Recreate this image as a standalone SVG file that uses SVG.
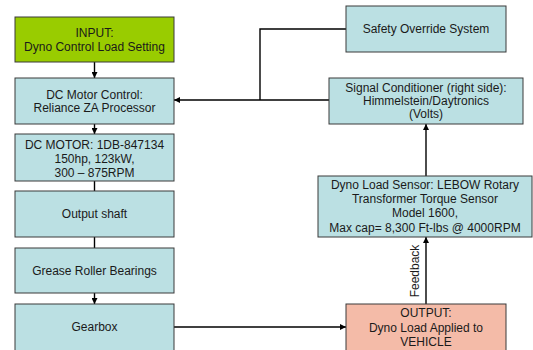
<svg xmlns="http://www.w3.org/2000/svg" width="533" height="350" viewBox="0 0 533 350">
<defs>
<style>
.box{stroke:#3a3a3a;stroke-width:1}
.blue{fill:#BBE0E3}
.green{fill:#99CC00}
.salmon{fill:#F4BBA8}
text{font-family:"Liberation Sans",Arial,sans-serif;font-size:12px;fill:#1a1a1a;text-anchor:middle}
.c{fill:none;stroke:#000;stroke-width:1.4}
</style>
<marker id="ah" viewBox="0 0 10 10" refX="10" refY="5" markerWidth="6" markerHeight="6" markerUnits="userSpaceOnUse" orient="auto">
<path d="M0,0 L10,5 L0,10 z" fill="#000"/>
</marker>
</defs>
<rect width="533" height="350" fill="#fff"/>
<g id="connectors">
<path class="c" d="M94.5,62 V78" marker-end="url(#ah)"/>
<path class="c" d="M94.5,124 V134" marker-end="url(#ah)"/>
<path class="c" d="M94.5,181 V191"/>
<path class="c" d="M94.5,237 V248"/>
<path class="c" d="M94.5,293 V304" marker-end="url(#ah)"/>
<path class="c" d="M174,327 H346" marker-end="url(#ah)"/>
<path class="c" d="M426,304 V237" marker-end="url(#ah)"/>
<path class="c" d="M426,176 V124" marker-end="url(#ah)"/>
<path class="c" d="M329,100 H174" marker-end="url(#ah)"/>
<path class="c" d="M346,29 H260 V100"/>
<text x="0" y="0" transform="translate(419,271) rotate(-90)">Feedback</text>
</g>
<g id="input">
<rect class="box green" x="15" y="17" width="159" height="45"/>
<text x="94.5" y="37">INPUT:</text>
<text x="94.5" y="51">Dyno Control Load Setting</text>
</g>
<g id="dc-control">
<rect class="box blue" x="15" y="78" width="159" height="46"/>
<text x="94.5" y="99">DC Motor Control:</text>
<text x="94.5" y="112">Reliance ZA Processor</text>
</g>
<g id="dc-motor">
<rect class="box blue" x="15" y="134" width="159" height="47"/>
<text x="94.5" y="149">DC MOTOR: 1DB-847134</text>
<text x="94.5" y="163">150hp, 123kW,</text>
<text x="94.5" y="177">300 – 875RPM</text>
</g>
<g id="output-shaft">
<rect class="box blue" x="15" y="191" width="159" height="46"/>
<text x="94.5" y="218">Output shaft</text>
</g>
<g id="bearings">
<rect class="box blue" x="15" y="248" width="159" height="45"/>
<text x="94.5" y="274.5">Grease Roller Bearings</text>
</g>
<g id="gearbox">
<rect class="box blue" x="15" y="304" width="159" height="50"/>
<text x="94.5" y="331">Gearbox</text>
</g>
<g id="safety">
<rect class="box blue" x="346" y="6" width="160" height="46"/>
<text x="426" y="33">Safety Override System</text>
</g>
<g id="signal">
<rect class="box blue" x="329" y="78" width="194" height="46"/>
<text x="426" y="92">Signal Conditioner (right side):</text>
<text x="426" y="105">Himmelstein/Daytronics</text>
<text x="426" y="118">(Volts)</text>
</g>
<g id="sensor">
<rect class="box blue" x="318" y="176" width="214" height="61"/>
<text x="425" y="189">Dyno Load Sensor: LEBOW Rotary</text>
<text x="425" y="203">Transformer Torque Sensor</text>
<text x="425" y="217">Model 1600,</text>
<text x="425" y="232">Max cap= 8,300 Ft-lbs @ 4000RPM</text>
</g>
<g id="output">
<rect class="box salmon" x="346" y="304" width="160" height="50"/>
<text x="426" y="317">OUTPUT:</text>
<text x="426" y="332">Dyno Load Applied to</text>
<text x="426" y="346">VEHICLE</text>
</g>
</svg>
